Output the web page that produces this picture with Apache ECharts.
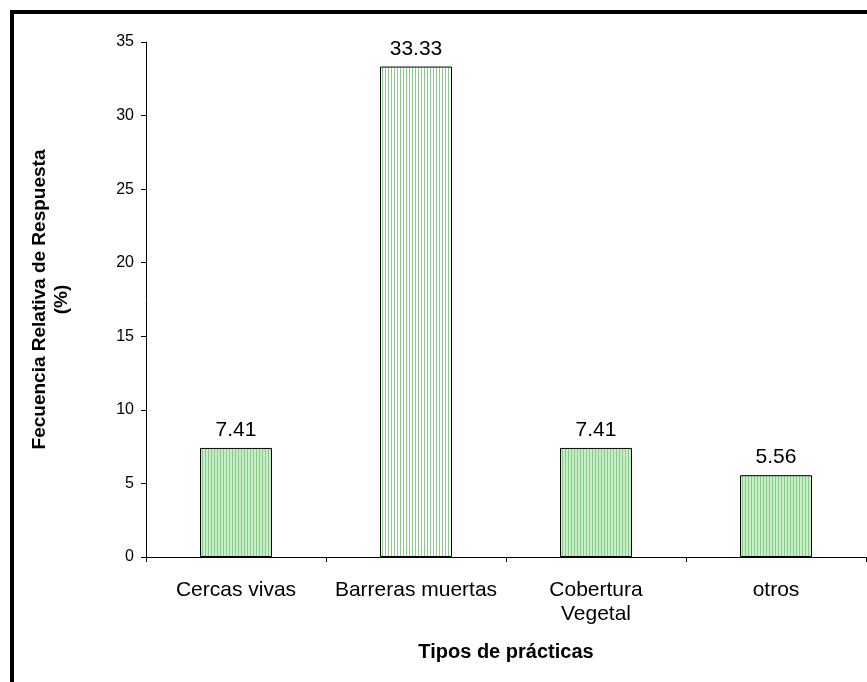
<!DOCTYPE html>
<html><head><meta charset="utf-8">
<script src="https://cdn.jsdelivr.net/npm/echarts@6/dist/echarts.min.js"></script>
<style>html,body{margin:0;padding:0;background:#fff}#c{width:867px;height:682px}</style>
</head><body><div id="c"></div>
<script>
const categories = ['Cercas vivas', 'Barreras muertas', 'Cobertura\nVegetal', 'otros'];
const values = [7.41, 33.33, 7.41, 5.56];
const yTicks = [0, 5, 10, 15, 20, 25, 30, 35];

function stripe(bg, fg) {
  const c = document.createElement('canvas');
  c.width = 3; c.height = 10;
  const g = c.getContext('2d');
  g.fillStyle = bg; g.fillRect(0, 0, 3, 10);
  g.fillStyle = fg; g.fillRect(1, 0, 1, 10);
  return { image: c, repeat: 'repeat' };
}
const greenPat = stripe('#c9ecc9', '#86cf86');
const whitePat = stripe('#ffffff', '#86cf86');

const chart = echarts.init(document.getElementById('c'), null, { renderer: 'canvas' });
const font = 'Liberation Sans, Arial, sans-serif';
chart.setOption({
  animation: false,
  textStyle: { fontFamily: font },
  graphic: [{
    type: 'rect', shape: { x: 12, y: 12, width: 900, height: 720 },
    style: { fill: 'none', stroke: '#000', lineWidth: 4 }, z: 10
  }],
  grid: { left: 146, top: 42, right: 1, bottom: 125 },
  xAxis: {
    type: 'category', data: categories,
    axisLine: { lineStyle: { color: '#000', width: 1 } },
    axisTick: { show: true, interval: 0, alignWithLabel: false, length: 5, lineStyle: { color: '#000' } },
    axisLabel: { interval: 0, color: '#000', fontSize: 21, margin: 21, lineHeight: 24, fontFamily: font },
    name: 'Tipos de prácticas', nameLocation: 'middle', nameGap: 85,
    nameTextStyle: { fontWeight: 'bold', fontSize: 20, color: '#000', fontFamily: font }
  },
  yAxis: {
    type: 'value', min: 0, max: 35, interval: 5,
    splitLine: { show: false },
    axisLine: { show: true, lineStyle: { color: '#000', width: 1 } },
    axisTick: { show: true, length: 5, lineStyle: { color: '#000' } },
    axisLabel: { color: '#000', fontSize: 16, margin: 12, fontFamily: font,
      formatter: v => yTicks.includes(v) ? String(v) : '' },
    name: 'Fecuencia Relativa de Respuesta\n(%)', nameLocation: 'middle', nameGap: 73,
    nameTextStyle: { fontWeight: 'bold', fontSize: 19, color: '#000', lineHeight: 22, fontFamily: font }
  },
  series: [{
    type: 'bar', barWidth: '40%',
    data: values.map((v, i) => ({
      value: v,
      itemStyle: { color: i === 1 ? whitePat : greenPat, borderColor: '#000', borderWidth: 1 }
    })),
    label: { show: true, position: 'top', distance: 7, color: '#000', fontSize: 21, fontFamily: font,
      formatter: p => p.value.toFixed(2) }
  }]
});
</script></body></html>
